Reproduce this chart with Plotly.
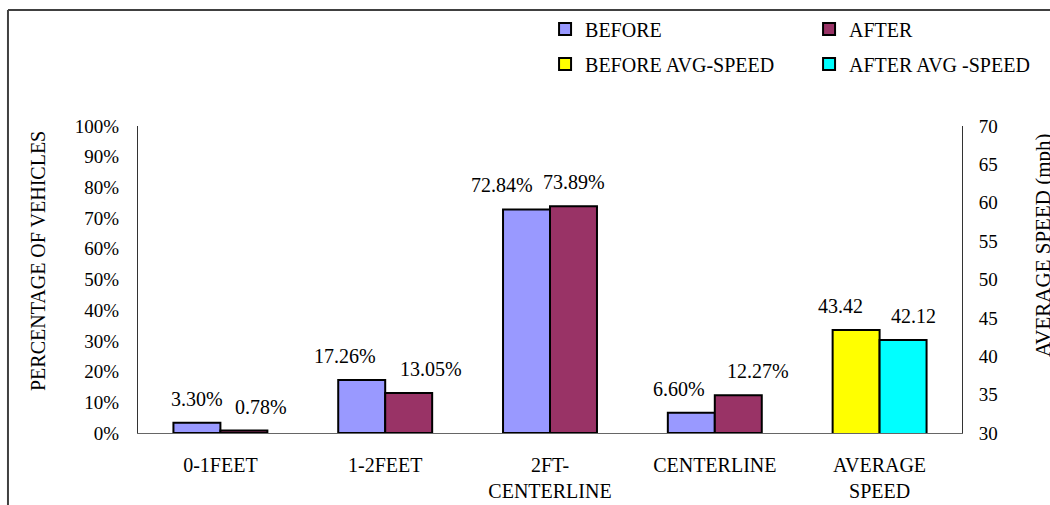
import plotly.graph_objects as go

categories = ["0-1FEET", "1-2FEET", "2FT-<br>CENTERLINE", "CENTERLINE", "AVERAGE<br>SPEED"]
lane_categories = categories[:4]
speed_category = categories[4:]

before_pct = [3.30, 17.26, 72.84, 6.60]
after_pct = [0.78, 13.05, 73.89, 12.27]
before_speed = [43.42]
after_speed = [42.12]

left_ticks = list(range(0, 101, 10))
left_tick_text = [f"{v}%" for v in left_ticks]
right_ticks = list(range(30, 71, 5))

# label horizontal nudges (px) relative to bar centre
before_label_dx = [0, -17, -25, -12]
after_label_dx = [17, 22, 0, 20]
speed_label_dx = [-16, 10]

FONT = "Liberation Serif"
BAR_HALF = 23.5

fig = go.Figure()
fig.add_trace(go.Bar(name="BEFORE", x=lane_categories, y=before_pct,
                     marker=dict(color="#9999FF", line=dict(color="black", width=2)),
                     legend="legend"))
fig.add_trace(go.Bar(name="AFTER", x=lane_categories, y=after_pct,
                     marker=dict(color="#993366", line=dict(color="black", width=2)),
                     legend="legend"))
fig.add_trace(go.Bar(name="BEFORE AVG-SPEED", x=speed_category, y=before_speed, yaxis="y2",
                     marker=dict(color="#FFFF00", line=dict(color="black", width=2)),
                     legend="legend2"))
fig.add_trace(go.Bar(name="AFTER AVG -SPEED", x=speed_category, y=after_speed, yaxis="y2",
                     marker=dict(color="#00FFFF", line=dict(color="black", width=2)),
                     legend="legend2"))

ann = []
for c, v, dx in zip(lane_categories, before_pct, before_label_dx):
    ann.append(dict(x=c, y=v, xref="x", yref="y", text=f"{v:.2f}%", showarrow=False,
                    xshift=-BAR_HALF + dx, yshift=24, yanchor="middle"))
for c, v, dx in zip(lane_categories, after_pct, after_label_dx):
    ann.append(dict(x=c, y=v, xref="x", yref="y", text=f"{v:.2f}%", showarrow=False,
                    xshift=BAR_HALF + dx, yshift=24, yanchor="middle"))
for c, v, dx in zip(speed_category, before_speed, speed_label_dx[:1]):
    ann.append(dict(x=c, y=v, xref="x", yref="y2", text=f"{v:.2f}", showarrow=False,
                    xshift=-BAR_HALF + dx, yshift=24, yanchor="middle"))
for c, v, dx in zip(speed_category, after_speed, speed_label_dx[1:]):
    ann.append(dict(x=c, y=v, xref="x", yref="y2", text=f"{v:.2f}", showarrow=False,
                    xshift=BAR_HALF + dx, yshift=24, yanchor="middle"))

ann.append(dict(x=-0.1214, y=0.56, xref="paper", yref="paper", text="PERCENTAGE OF VEHICLES",
                textangle=-90, showarrow=False, xanchor="center", yanchor="middle",
                font=dict(size=20)))
ann.append(dict(x=1.0983, y=0.612, xref="paper", yref="paper", text="AVERAGE SPEED (mph)",
                textangle=-90, showarrow=False, xanchor="center", yanchor="middle",
                font=dict(size=21)))

fig.update_layout(
    width=1050, height=505,
    margin=dict(l=138, r=88, t=126, b=72, autoexpand=False),
    paper_bgcolor="white", plot_bgcolor="white",
    font=dict(family=FONT, size=20, color="black"),
    barmode="group", bargap=0.43, bargroupgap=0,
    annotations=ann,
    xaxis=dict(categoryorder="array", categoryarray=categories, showline=True,
               linecolor="#666666", linewidth=1, ticks="", ticklabelstandoff=14,
               showgrid=False, zeroline=False, range=[-0.5, 4.5], automargin=False),
    yaxis=dict(range=[0, 100], tickvals=left_ticks, ticktext=left_tick_text, showline=True,
               linecolor="#333333", linewidth=1, ticks="", ticklabelstandoff=14,
               showgrid=False, zeroline=False, tickfont=dict(size=19), automargin=False),
    yaxis2=dict(range=[30, 70], tickvals=right_ticks, overlaying="y", side="right",
                showline=True, linecolor="#333333", linewidth=1, ticks="",
                ticklabelstandoff=12, showgrid=False, zeroline=False, tickfont=dict(size=19),
                automargin=False),
    legend=dict(orientation="h", x=0.494, xanchor="left", y=1.316, yanchor="middle",
                entrywidth=219, entrywidthmode="pixels", font=dict(size=20),
                bgcolor="rgba(0,0,0,0)", traceorder="normal"),
    legend2=dict(orientation="h", x=0.494, xanchor="left", y=1.202, yanchor="middle",
                 entrywidth=219, entrywidthmode="pixels", font=dict(size=20),
                 bgcolor="rgba(0,0,0,0)", traceorder="normal"),
    shapes=[
        dict(type="line", xref="paper", yref="paper", x0=-0.1578, x1=-0.1578,
             y0=1.378, y1=-0.25, line=dict(color="#404040", width=2)),
        dict(type="line", xref="paper", yref="paper", x0=-0.1578, x1=1.12,
             y0=1.378, y1=1.378, line=dict(color="#404040", width=2)),
    ],
)

fig.write_html("out.html", config={"displayModeBar": False},
               post_script="document.body.style.margin='0';")
